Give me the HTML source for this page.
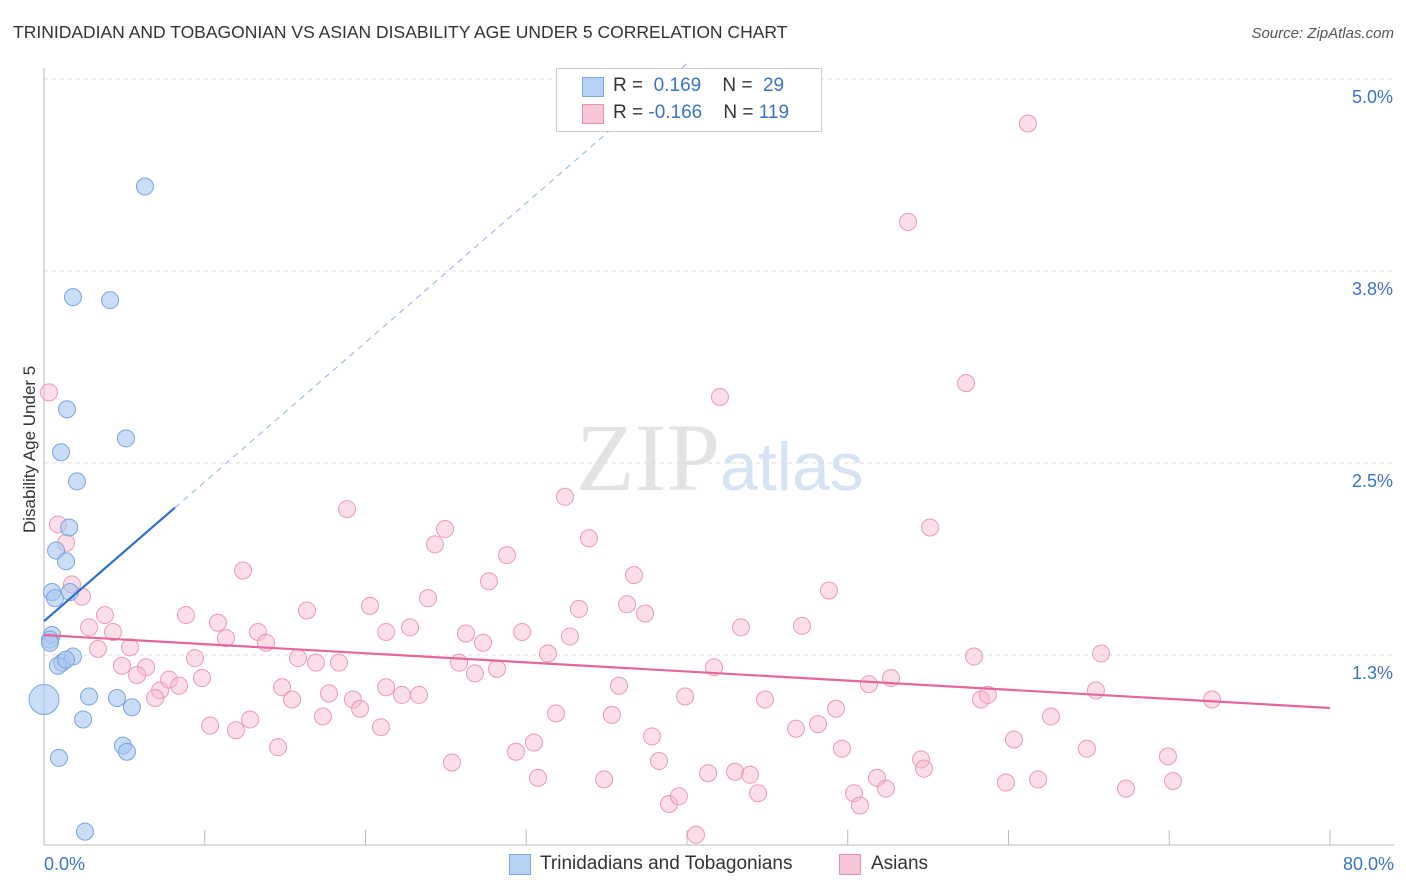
<!DOCTYPE html>
<html><head><meta charset="utf-8">
<style>
body{margin:0;background:#fff;font-family:"Liberation Sans",sans-serif;}
#wrap{position:relative;width:1406px;height:892px;overflow:hidden;}
.t{position:absolute;white-space:nowrap;}
</style></head>
<body>
<div id="wrap">
<div class="t" style="left:13px;top:22px;font-size:17.5px;color:#333;">TRINIDADIAN AND TOBAGONIAN VS ASIAN DISABILITY AGE UNDER 5 CORRELATION CHART</div>
<div class="t" style="right:12px;top:25px;font-size:15px;color:#555;font-style:italic;">Source: ZipAtlas.com</div>
<div class="t" style="left:-50px;top:443px;font-size:17px;color:#333;transform:rotate(-90deg);width:160px;text-align:center;">Disability Age Under 5</div>
<svg id="chart" width="1406" height="892" style="position:absolute;left:0;top:0">
<text x="720" y="490" text-anchor="end" font-family="Liberation Serif" font-size="96" fill="#e3e3e3">ZIP</text>
<text x="720" y="490" font-family="Liberation Sans" font-size="68" fill="#d6e3f3">atlas</text>
<g id="grid"></g><g id="pts"></g><g id="lines"></g>
</svg>
<div style="position:absolute;left:556px;top:68px;width:264px;height:62px;border:1px solid #ccc;background:#fff;font-size:19px;">
 <div style="position:absolute;left:25px;top:8px;width:20px;height:18px;background:#b7d1f3;border:1px solid #7da7e0;"></div>
 <div class="t" style="left:56px;top:6px;color:#333">R = <span style="color:#3a73c9">&nbsp;0.169</span>&nbsp;&nbsp;&nbsp; N = <span style="color:#3a73c9">&nbsp;29</span></div>
 <div style="position:absolute;left:25px;top:35px;width:20px;height:18px;background:#f7c6d4;border:1px solid #e890ac;"></div>
 <div class="t" style="left:56px;top:33px;color:#333">R = <span style="color:#3a73c9">-0.166</span>&nbsp;&nbsp;&nbsp; N = <span style="color:#3a73c9">119</span></div>
</div>
<div>
 <div style="position:absolute;left:509px;top:854px;width:20px;height:19px;background:#b7d1f3;border:1px solid #7da7e0;"></div>
 <div class="t" style="left:540px;top:853px;font-size:19px;color:#333">Trinidadians and Tobagonians</div>
 <div style="position:absolute;left:839px;top:854px;width:20px;height:19px;background:#f7c6d4;border:1px solid #e890ac;"></div>
 <div class="t" style="left:871px;top:853px;font-size:19px;color:#333">Asians</div>
</div>
</div>
<script>
const yTicks=[1.25,2.5,3.75,5.0];
const yTickLabels=["1.3%","2.5%","3.8%","5.0%"];
const xTickLabels=["0.0%","80.0%"];
const blueX=[6.28,1.80,4.11,1.43,5.10,1.06,2.05,1.56,0.75,1.37,0.50,0.68,1.62,0.50,0.37,1.12,0.87,1.80,0,2.80,4.54,5.47,2.43,4.91,5.16,0.93,2.55,1.37,0.37];
const blueY=[4.30,3.58,3.56,2.85,2.66,2.57,2.38,2.08,1.93,1.86,1.66,1.62,1.66,1.38,1.35,1.20,1.18,1.24,0.96,0.98,0.97,0.91,0.83,0.66,0.62,0.58,0.10,1.22,1.33];
const pinkX=[0.31,0.87,1.37,1.74,2.36,2.80,3.79,4.29,3.36,5.35,4.85,6.35,5.79,7.22,6.91,7.78,8.40,8.83,9.39,9.83,10.33,10.82,11.32,11.94,12.38,12.82,13.31,13.81,14.56,14.81,15.43,15.80,16.36,16.92,17.35,17.73,18.35,18.85,19.22,19.66,20.28,20.96,21.28,21.28,22.27,22.77,23.33,23.89,24.32,24.95,25.38,25.82,26.25,26.81,27.31,27.68,28.18,28.80,29.36,29.74,30.48,30.73,31.35,31.85,32.41,32.72,33.28,33.90,34.84,35.33,35.77,36.27,36.70,37.39,37.82,38.26,38.88,39.50,39.88,40.56,41.31,41.68,42.05,42.99,43.36,43.92,44.42,44.85,46.78,47.15,48.15,48.83,49.27,49.64,50.39,50.76,51.32,51.82,52.38,52.69,53.75,54.56,54.74,55.12,57.36,57.85,58.29,58.72,59.84,60.34,61.21,61.84,62.64,64.88,65.44,65.76,67.31,69.92,70.23,72.66];
const pinkY=[2.96,2.10,1.98,1.71,1.63,1.43,1.51,1.40,1.29,1.30,1.18,1.17,1.12,1.02,0.97,1.09,1.05,1.51,1.23,1.10,0.79,1.46,1.36,0.76,1.80,0.83,1.40,1.33,0.65,1.04,0.96,1.23,1.54,1.20,0.85,1.00,1.20,2.20,0.96,0.90,1.57,0.78,1.04,1.40,0.99,1.43,0.99,1.62,1.97,2.07,0.55,1.20,1.39,1.13,1.33,1.73,1.16,1.90,0.62,1.40,0.68,0.45,1.26,0.87,2.28,1.37,1.55,2.01,0.44,0.86,1.05,1.58,1.77,1.52,0.72,0.56,0.28,0.33,0.98,0.08,0.48,1.17,2.93,0.49,1.43,0.47,0.35,0.96,0.77,1.44,0.80,1.67,0.90,0.64,0.35,0.27,1.06,0.45,0.38,1.10,4.07,0.57,0.51,2.08,3.02,1.24,0.96,0.99,0.42,0.70,4.71,0.44,0.85,0.64,1.02,1.26,0.38,0.59,0.43,0.96];
const blueTrend=[[0,1.47],[8.15,2.21],[40,5.1]];
const pinkTrend=[[0,1.38],[80,0.905]];
const NS="http://www.w3.org/2000/svg";
const sx=v=>44+v*16.075, sy=v=>847-v*153.6;
function mk(tag,attrs,parent){const e=document.createElementNS(NS,tag);for(const k in attrs)e.setAttribute(k,attrs[k]);parent.appendChild(e);return e;}
const grid=document.getElementById('grid'),pts=document.getElementById('pts'),lines=document.getElementById('lines');
yTicks.forEach((t,i)=>{
 const l=mk('line',{x1:44,x2:1394,y1:sy(t),y2:sy(t),stroke:'#ddd','stroke-dasharray':'4,4'},grid);
 
 
 const tx=mk('text',{x:1393,y:sy(t)+24,'text-anchor':'end','font-size':18,fill:'#3a73c9'},grid);
 tx.textContent=yTickLabels[i];
 
 
});
const ax=mk('line',{x1:44,x2:44,y1:68,y2:845,stroke:'#bbb'},grid);


const bx=mk('line',{x1:44,x2:1394,y1:845,y2:845,stroke:'#bbb'},grid);


for(let v=10;v<=80;v+=10){
 const tk=mk('line',{x1:sx(v),x2:sx(v),y1:830,y2:845,stroke:'#bbb'},grid);
 
 
}
[[0,'start',44],[80,'end',1394]].forEach((a,i)=>{
 const tx=mk('text',{x:a[2],y:870,'text-anchor':a[1],'font-size':18,fill:'#3a73c9'},grid);
 tx.textContent=xTickLabels[i];
 
 
});
pinkX.forEach((x,i)=>{
 const c=mk('circle',{cx:sx(x),cy:sy(pinkY[i]),r:8.5,fill:'rgba(247,182,202,0.45)',stroke:'#ec9ab4','stroke-width':1},pts);
 
 
});
blueX.forEach((x,i)=>{
 const c=mk('circle',{cx:sx(x),cy:sy(blueY[i]),r:i===18?15:8.5,fill:'rgba(167,198,240,0.6)',stroke:'#7aa4de','stroke-width':1},pts);
 
 
});
const b1=mk('line',{x1:sx(blueTrend[0][0]),y1:sy(blueTrend[0][1]),x2:sx(blueTrend[1][0]),y2:sy(blueTrend[1][1]),stroke:'#2a6fd0','stroke-width':2.2},lines);


const b2=mk('line',{x1:sx(blueTrend[1][0]),y1:sy(blueTrend[1][1]),x2:sx(blueTrend[2][0]),y2:sy(blueTrend[2][1]),stroke:'#8fb2e6','stroke-width':1,'stroke-dasharray':'6,5'},lines);


const p1=mk('line',{x1:sx(pinkTrend[0][0]),y1:sy(pinkTrend[0][1]),x2:sx(pinkTrend[1][0]),y2:sy(pinkTrend[1][1]),stroke:'#e5679a','stroke-width':2.2},lines);


</script>
</body></html>
